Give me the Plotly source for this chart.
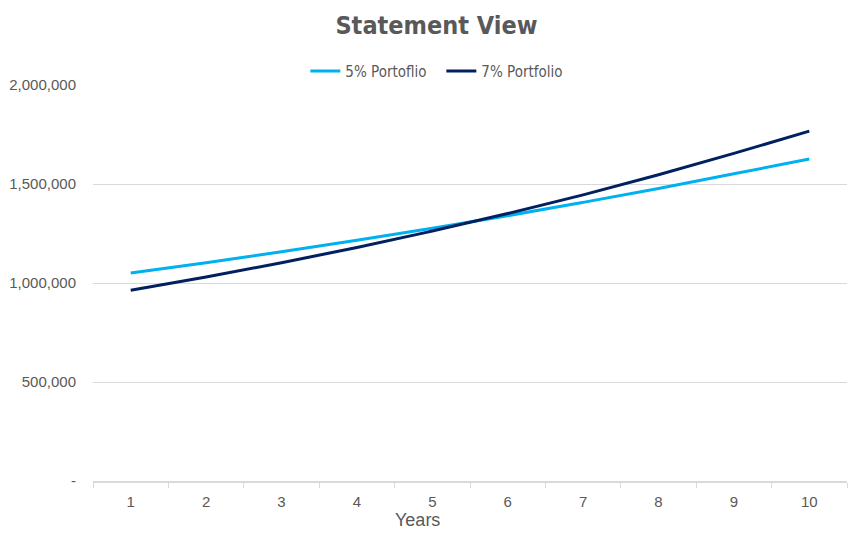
import plotly.graph_objects as go

# Data
years = [1, 2, 3, 4, 5, 6, 7, 8, 9, 10]
portfolio_5 = [1050000, 1102500, 1157625, 1215506, 1276282,
               1340096, 1407100, 1477455, 1551328, 1626000]
portfolio_7 = [963000, 1030410, 1102539, 1179217, 1262303,
               1350664, 1445211, 1546375, 1654622, 1767000]
y_ticks = [0, 500000, 1000000, 1500000, 2000000]
y_labels = ["-", "500,000", "1,000,000", "1,500,000", "2,000,000"]

grey = "#595959"
grid = "#d9d9d9"
narrow = "DejaVu Sans Condensed, Liberation Sans, sans-serif"

fig = go.Figure()

fig.add_trace(
    go.Scatter(
        x=[str(y) for y in years],
        y=portfolio_5,
        mode="lines",
        name="5% Portoflio",
        line=dict(color="#00b0f0", width=3, shape="spline"),
    )
)

fig.add_trace(
    go.Scatter(
        x=[str(y) for y in years],
        y=portfolio_7,
        mode="lines",
        name="7% Portfolio",
        line=dict(color="#002060", width=3, shape="spline"),
    )
)

# page body has an 8px default margin, so the figure is a bit smaller
fig.update_layout(
    width=857,
    height=527,
    title=dict(
        text="<b>Statement View</b>",
        x=0.5,
        xanchor="center",
        y=0.968,
        yanchor="middle",
        font=dict(family=narrow, size=25, color=grey),
    ),
    legend=dict(
        orientation="h",
        x=0.462,
        xanchor="center",
        y=1.035,
        yanchor="middle",
        font=dict(family=narrow, size=15, color=grey),
        entrywidth=91,
        entrywidthmode="pixels",
        tracegroupgap=0,
    ),
    xaxis=dict(
        type="category",
        tickson="boundaries",
        ticks="outside",
        ticklen=5,
        tickcolor=grid,
        showline=True,
        linecolor=grid,
        linewidth=1.5,
        showgrid=False,
        automargin=False,
        ticklabelstandoff=6,
        tickfont=dict(family="Liberation Sans", size=15, color=grey),
        range=[-0.5, 9.5],
    ),
    yaxis=dict(
        range=[0, 2000000],
        tickvals=y_ticks,
        ticktext=y_labels,
        showgrid=True,
        gridcolor=grid,
        gridwidth=1,
        zeroline=False,
        ticks="",
        automargin=False,
        ticklabelstandoff=16,
        tickfont=dict(family="Liberation Sans", size=15, color=grey),
    ),
    annotations=[
        dict(
            text="Years",
            xref="paper",
            yref="paper",
            x=0.43,
            y=-0.098,
            xanchor="center",
            yanchor="middle",
            showarrow=False,
            font=dict(family="Liberation Sans", size=18, color=grey),
        )
    ],
    margin=dict(l=85, r=18, t=77, b=54),
    paper_bgcolor="white",
    plot_bgcolor="white",
    showlegend=True,
)

fig.write_html("out.html")
